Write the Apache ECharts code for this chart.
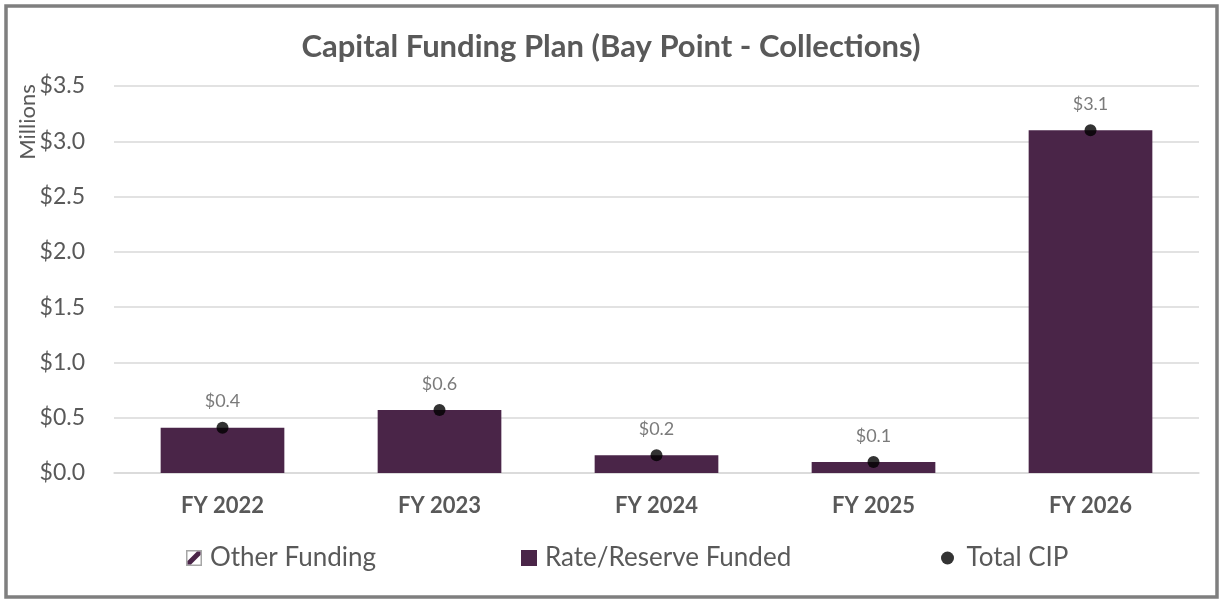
<!DOCTYPE html>
<html>
<head>
<meta charset="utf-8">
<script src="https://cdn.jsdelivr.net/npm/echarts@6/dist/echarts.min.js"></script>
<style>
  html, body { margin: 0; padding: 0; background: #fff; }
  #chart { width: 1222px; height: 600px; }
</style>
</head>
<body>
<div id="chart"></div>
<script>
// Fiscal years and funding amounts, in millions of dollars
const categories = ['FY 2022', 'FY 2023', 'FY 2024', 'FY 2025', 'FY 2026'];
const otherFunding = [0, 0, 0, 0, 0];
const rateReserveFunded = [0.41, 0.57, 0.16, 0.10, 3.10];
const totalCIP = [0.41, 0.57, 0.16, 0.10, 3.10];
const yTicks = { min: 0, max: 3.5, interval: 0.5 };

const PURPLE = '#4A2548';
const TEXT = '#595959';
const GRID = '#D9D9D9';
const FONT = 'Lato, "Open Sans", sans-serif';

// Hatched swatch for the "Other Funding" legend entry
const hatchIcon = 'image://data:image/svg+xml;utf8,' + encodeURIComponent(
  '<svg xmlns="http://www.w3.org/2000/svg" width="16" height="16" viewBox="0 0 16 16">' +
  '<rect x="0.75" y="0.75" width="14.5" height="14.5" fill="#ffffff" stroke="#A6A6A6" stroke-width="1.5"/>' +
  '<polygon points="1.5,11 11,1.5 14.5,1.5 14.5,5 5,14.5 1.5,14.5" fill="' + PURPLE + '"/>' +
  '</svg>'
);

const chart = echarts.init(document.getElementById('chart'));

const legendText = { color: TEXT, fontSize: 26, fontFamily: FONT, padding: [0, 0, 0, 3] };

chart.setOption({
  animation: false,
  backgroundColor: '#ffffff',
  title: {
    text: 'Capital Funding Plan (Bay Point - Collections)',
    left: 'center',
    top: 26,
    textStyle: { color: TEXT, fontSize: 31, fontWeight: 'bold', fontFamily: FONT }
  },
  graphic: [
    {
      type: 'rect',
      shape: { x: 6, y: 6, width: 1211, height: 591 },
      style: { fill: 'none', stroke: '#7F7F7F', lineWidth: 3.5 },
      silent: true
    },
    {
      type: 'text',
      x: 28, y: 122,
      rotation: Math.PI / 2,
      style: {
        text: 'Millions', fill: TEXT, fontSize: 22, fontFamily: FONT,
        align: 'center', verticalAlign: 'middle'
      },
      silent: true
    }
  ],
  legend: [
    {
      left: 186, top: 545, padding: 0, itemWidth: 16, itemHeight: 16,
      textStyle: legendText,
      data: [{ name: 'Other Funding', icon: hatchIcon }]
    },
    {
      left: 521, top: 545, padding: 0, itemWidth: 16, itemHeight: 16,
      textStyle: legendText,
      data: [{ name: 'Rate/Reserve Funded', icon: 'rect' }]
    },
    {
      left: 941, top: 545, padding: 0, itemWidth: 22, itemHeight: 13,
      textStyle: legendText,
      data: [{ name: 'Total CIP', icon: 'circle' }]
    }
  ],
  grid: { left: 114, right: 23, top: 86, bottom: 127, containLabel: false },
  xAxis: {
    type: 'category',
    data: categories,
    axisLine: { show: true, lineStyle: { color: GRID, width: 1.5 } },
    axisTick: { show: false },
    axisLabel: {
      color: TEXT, fontSize: 22, fontWeight: 'bold', fontFamily: FONT, margin: 22
    }
  },
  yAxis: {
    type: 'value',
    min: yTicks.min, max: yTicks.max, interval: yTicks.interval,
    axisLine: { show: false },
    axisTick: { show: false },
    splitLine: { lineStyle: { color: GRID, width: 1.5 } },
    axisLabel: {
      color: TEXT, fontSize: 23, fontFamily: FONT, margin: 29,
      formatter: v => '$' + v.toFixed(1)
    }
  },
  series: [
    {
      name: 'Other Funding',
      type: 'bar',
      stack: 'funding',
      barWidth: '57%',
      data: otherFunding,
      itemStyle: { color: PURPLE }
    },
    {
      name: 'Rate/Reserve Funded',
      type: 'bar',
      stack: 'funding',
      barWidth: '57%',
      data: rateReserveFunded,
      itemStyle: { color: PURPLE }
    },
    {
      name: 'Total CIP',
      type: 'scatter',
      data: totalCIP,
      symbol: 'circle',
      symbolSize: 12,
      itemStyle: { color: '#000000' },
      z: 5,
      label: {
        show: true,
        position: 'top',
        distance: 11,
        color: TEXT,
        fontSize: 18,
        fontFamily: FONT,
        formatter: p => '$' + p.value.toFixed(1)
      }
    }
  ]
});
</script>
</body>
</html>
